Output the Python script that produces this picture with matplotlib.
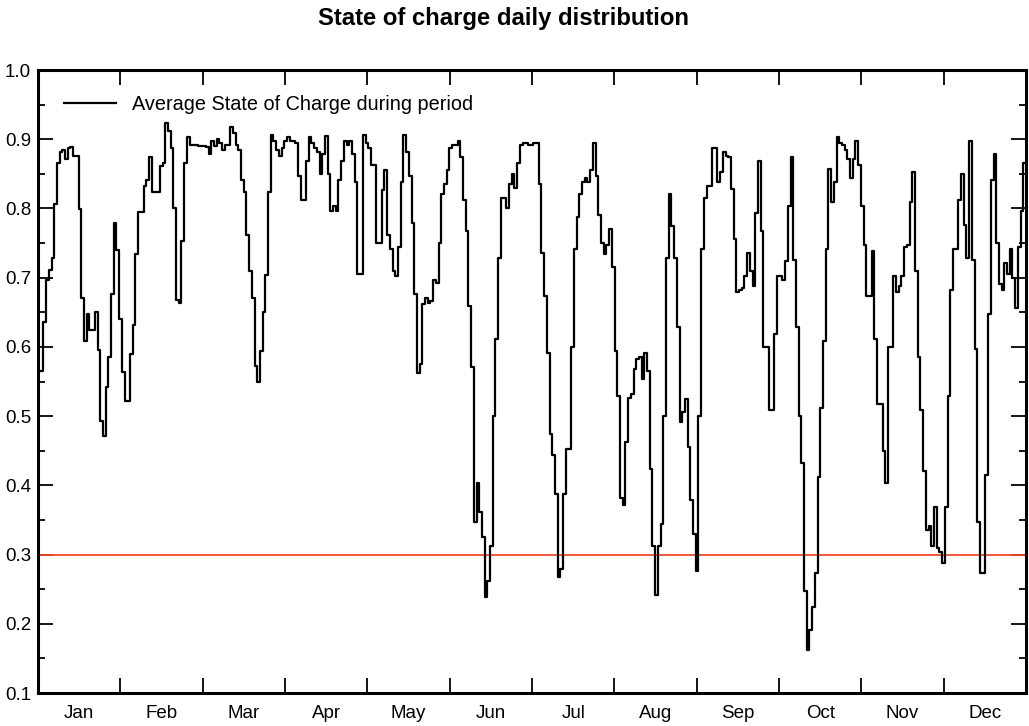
import numpy as np
import matplotlib
matplotlib.use("Agg")
import matplotlib.pyplot as plt
from matplotlib.ticker import FixedLocator, MultipleLocator, NullFormatter

plt.rcParams['font.family'] = ['Liberation Sans', 'DejaVu Sans']

# Daily average state of charge, one list per month
jan = [0.565, 0.565, 0.636, 0.697, 0.711, 0.728, 0.806, 0.866, 0.882, 0.884,
       0.871, 0.888, 0.889, 0.876, 0.876, 0.799, 0.671, 0.609, 0.647, 0.624,
       0.624, 0.650, 0.595, 0.493, 0.471, 0.542, 0.586, 0.676, 0.779, 0.740,
       0.641]
feb = [0.564, 0.522, 0.522, 0.590, 0.631, 0.734, 0.795, 0.795, 0.832, 0.841,
       0.874, 0.824, 0.824, 0.824, 0.861, 0.866, 0.924, 0.912, 0.888, 0.800,
       0.668, 0.663, 0.753, 0.866, 0.903, 0.891, 0.891, 0.891]
mar = [0.890, 0.890, 0.890, 0.889, 0.878, 0.897, 0.890, 0.900, 0.894, 0.884,
       0.891, 0.891, 0.918, 0.909, 0.891, 0.884, 0.841, 0.824, 0.762, 0.709,
       0.671, 0.572, 0.550, 0.594, 0.650, 0.704, 0.824, 0.906, 0.897, 0.884,
       0.876]
apr = [0.888, 0.897, 0.903, 0.897, 0.897, 0.894, 0.847, 0.812, 0.812, 0.868,
       0.903, 0.894, 0.888, 0.882, 0.850, 0.878, 0.904, 0.850, 0.797, 0.803,
       0.797, 0.841, 0.868, 0.897, 0.891, 0.897, 0.879, 0.838, 0.706, 0.706]
may = [0.906, 0.894, 0.888, 0.863, 0.863, 0.750, 0.750, 0.826, 0.856, 0.762,
       0.741, 0.709, 0.703, 0.744, 0.838, 0.906, 0.882, 0.847, 0.779, 0.676,
       0.562, 0.576, 0.662, 0.671, 0.663, 0.667, 0.697, 0.692, 0.750, 0.821,
       0.835]
jun = [0.856, 0.888, 0.891, 0.891, 0.897, 0.874, 0.812, 0.768, 0.659, 0.571,
       0.347, 0.403, 0.362, 0.326, 0.238, 0.262, 0.312, 0.500, 0.612, 0.729,
       0.815, 0.815, 0.800, 0.835, 0.850, 0.829, 0.866, 0.891, 0.894, 0.894]
jul = [0.891, 0.891, 0.894, 0.894, 0.835, 0.735, 0.674, 0.591, 0.474, 0.444,
       0.388, 0.268, 0.279, 0.388, 0.453, 0.453, 0.600, 0.741, 0.788, 0.821,
       0.838, 0.844, 0.838, 0.856, 0.894, 0.847, 0.791, 0.750, 0.734, 0.747,
       0.771]
aug = [0.715, 0.594, 0.529, 0.382, 0.371, 0.462, 0.526, 0.532, 0.568, 0.582,
       0.585, 0.553, 0.591, 0.565, 0.424, 0.312, 0.241, 0.312, 0.344, 0.500,
       0.729, 0.821, 0.774, 0.729, 0.629, 0.491, 0.506, 0.524, 0.456, 0.379,
       0.329]
sep = [0.276, 0.500, 0.741, 0.815, 0.832, 0.832, 0.888, 0.888, 0.838, 0.853,
       0.882, 0.876, 0.874, 0.828, 0.756, 0.679, 0.682, 0.685, 0.703, 0.735,
       0.709, 0.688, 0.794, 0.868, 0.768, 0.600, 0.600, 0.509, 0.509, 0.618]
oct_ = [0.703, 0.703, 0.697, 0.724, 0.803, 0.874, 0.726, 0.629, 0.500, 0.432,
        0.247, 0.162, 0.191, 0.224, 0.274, 0.412, 0.512, 0.609, 0.741, 0.857,
        0.809, 0.838, 0.903, 0.894, 0.891, 0.885, 0.871, 0.844, 0.871, 0.897,
        0.863]
nov = [0.803, 0.747, 0.674, 0.674, 0.738, 0.612, 0.518, 0.518, 0.450, 0.403,
       0.600, 0.600, 0.703, 0.679, 0.688, 0.703, 0.744, 0.747, 0.809, 0.853,
       0.709, 0.585, 0.509, 0.421, 0.335, 0.341, 0.312, 0.368, 0.309, 0.303]
dec = [0.288, 0.368, 0.529, 0.682, 0.741, 0.741, 0.812, 0.850, 0.776, 0.729,
       0.897, 0.726, 0.597, 0.347, 0.274, 0.274, 0.415, 0.647, 0.841, 0.879,
       0.750, 0.691, 0.682, 0.721, 0.706, 0.741, 0.700, 0.656, 0.744, 0.797,
       0.865]

month_labels = ["Jan", "Feb", "Mar", "Apr", "May", "Jun",
                "Jul", "Aug", "Sep", "Oct", "Nov", "Dec"]
threshold = 0.3

soc = np.concatenate([jan, feb, mar, apr, may, jun, jul, aug, sep, oct_, nov, dec])
n_days = len(soc)
days = np.arange(n_days + 1)
soc_steps = np.append(soc, soc[-1])

fig = plt.figure(figsize=(10.29, 7.26), dpi=100)
ax = fig.add_axes([38 / 1029, 1 - 693 / 726, (1026 - 38) / 1029, (693 - 70) / 726])

ax.step(days, soc_steps, where='post', color='black', lw=1.6,
        label="Average State of Charge during period", zorder=3)
ax.axhline(threshold, color='#f04a2a', lw=1.3, zorder=2)

ax.set_xlim(0, n_days)
ax.set_ylim(0.1, 1.0)

# month boundaries as ticks, month names centred between them
month_w = n_days / 12
ax.xaxis.set_major_locator(FixedLocator([month_w * k for k in range(1, 12)]))
ax.xaxis.set_major_formatter(NullFormatter())
ax.xaxis.set_minor_locator(FixedLocator([month_w * (k + 0.5) for k in range(12)]))
ax.set_xticklabels(month_labels, minor=True)
ax.tick_params(axis='x', which='major', direction='in', length=11, width=1.3,
               top=True, bottom=True)
ax.tick_params(axis='x', which='minor', length=0, pad=9, labelsize=13.5)

ax.yaxis.set_major_locator(MultipleLocator(0.1))
ax.yaxis.set_minor_locator(MultipleLocator(0.05))
ax.yaxis.set_major_formatter(plt.FuncFormatter(lambda v, p: f"{v:.1f}"))
ax.tick_params(axis='y', which='major', direction='in', length=11, width=1.3,
               left=True, right=True, labelsize=13.5, pad=5)
ax.tick_params(axis='y', which='minor', direction='in', length=5, width=1.3,
               left=True, right=True)

for side in ax.spines.values():
    side.set_linewidth(2.2)

ax.legend(loc='upper left', frameon=False, fontsize=14.3, handlelength=2.65,
          handletextpad=0.8, bbox_to_anchor=(0.012, 0.982), borderaxespad=0.3)

fig.suptitle("State of charge daily distribution", fontsize=17.2,
             fontweight='bold', x=503 / 1029, y=1 - 18 / 726, va='center')

fig.savefig("out.png", dpi=100)
